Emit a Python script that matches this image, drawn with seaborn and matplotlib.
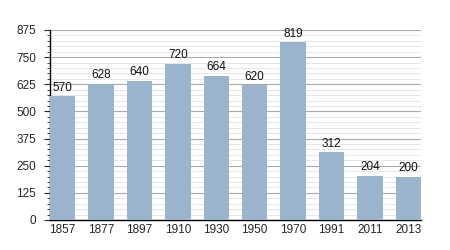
import matplotlib
matplotlib.use("Agg")
import matplotlib.pyplot as plt
import seaborn as sns
import pandas as pd
from matplotlib.ticker import MultipleLocator

years = ["1857", "1877", "1897", "1910", "1930", "1950", "1970", "1991", "2011", "2013"]
population = [570, 628, 640, 720, 664, 620, 819, 312, 204, 200]
yticks = [0, 125, 250, 375, 500, 625, 750, 875]

df = pd.DataFrame({"year": years, "pop": population})

sns.set_style("white")
plt.rcParams['font.family'] = ['Liberation Sans', 'DejaVu Sans']

fig = plt.figure(figsize=(4.5, 2.5), dpi=100)
ax = fig.add_axes([50/450, 1-220/250, 371/450, 190/250])

sns.barplot(data=df, x="year", y="pop", color="#9bb4cd", width=0.66,
            saturation=1, linewidth=0, edgecolor="none", ax=ax, zorder=3)

ax.set_ylim(0, 875)
ax.set_xlim(-0.33, 9.33)
ax.set_yticks(yticks)
ax.yaxis.set_minor_locator(MultipleLocator(25))
ax.grid(axis="y", which="major", color="#aaaaaa", linewidth=0.8, zorder=0)
ax.grid(axis="y", which="minor", color="#e2e2e2", linewidth=0.6, zorder=0)
ax.set_axisbelow(True)

for i, v in enumerate(population):
    ax.text(i, v + 12, str(v), ha="center", va="bottom", fontsize=8.5, color="#111111")

for s in ["top", "right"]:
    ax.spines[s].set_visible(False)
ax.spines["left"].set_color("black")
ax.spines["bottom"].set_color("black")
ax.spines["left"].set_linewidth(1.0)
ax.spines["bottom"].set_linewidth(1.0)

ax.tick_params(axis="y", which="major", length=4, width=0.8, labelsize=8.5, pad=6, left=True)
ax.tick_params(axis="y", which="minor", length=2, width=0.6, left=True)
ax.tick_params(axis="x", length=0, labelsize=8.5, pad=3)
ax.set_xlabel("")
ax.set_ylabel("")

fig.savefig("out.png", dpi=100)
